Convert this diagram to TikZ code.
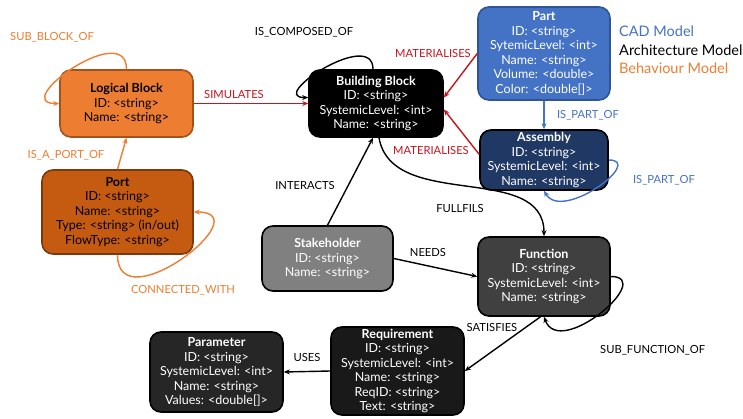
\documentclass[tikz,border=0pt]{standalone}
\usepackage{fontspec}
\setmainfont{Lato}
\usetikzlibrary{arrows.meta}

% model colours
\definecolor{behav}{HTML}{ED7D31}
\definecolor{behavdark}{HTML}{A4521B}
\definecolor{portfill}{HTML}{C55A11}
\definecolor{portdark}{HTML}{7A3A0E}
\definecolor{cad}{HTML}{4472C4}
\definecolor{caddark}{HTML}{2F5597}
\definecolor{asmfill}{HTML}{203864}
\definecolor{relred}{HTML}{C8141E}

\tikzset{
  entity/.style={draw=black, line width=1.6pt, rounded corners=11pt, align=center,
    text=white, inner sep=1pt, font=\fontsize{12.5}{14.5}\selectfont},
  rel/.style={line width=1.4pt, -{Stealth[length=6pt,width=5pt]}},
  lbl/.style={inner sep=0pt, font=\fontsize{11.2}{12}\selectfont},
  legend/.style={inner sep=0pt, anchor=west, font=\fontsize{14.5}{16}\selectfont},
}

\begin{document}
\begin{tikzpicture}[x=1pt,y=1pt]
  \useasboundingbox (0,0) rectangle (743,-419);

  % behaviour model
  \node[entity, fill=behav, draw=behavdark, text=black, minimum width=133pt, minimum height=67pt]
    (lb) at (126.5,-103.5) {\textbf{Logical Block}\\ID: <string>\\Name: <string>};
  \node[entity, fill=portfill, draw=portdark, text=black, minimum width=151pt, minimum height=84pt]
    (port) at (117.5,-212) {\textbf{Port}\\ID: <string>\\Name: <string>\\Type: <string> (in/out)\\FlowType: <string>};

  % architecture model
  \node[entity, fill=black, minimum width=134pt, minimum height=67pt]
    (bb) at (376,-103.5) {\textbf{Building Block}\\ID: <string>\\SystemicLevel: <int>\\Name: <string>};
  \node[entity, fill=black!50, minimum width=131pt, minimum height=65pt]
    (stake) at (327.5,-258.5) {\textbf{Stakeholder}\\ID: <string>\\Name: <string>};
  \node[entity, fill=black!75, minimum width=132pt, minimum height=79pt]
    (func) at (544,-276.5) {\textbf{Function}\\ID: <string>\\SystemicLevel: <int>\\Name: <string>};
  \node[entity, fill=black!90, minimum width=133pt, minimum height=88pt]
    (req) at (397.5,-371) {\textbf{Requirement}\\ID: <string>\\SystemicLevel: <int>\\Name: <string>\\ReqID: <string>\\Text: <string>};
  \node[entity, fill=black!85, minimum width=133pt, minimum height=80pt]
    (param) at (216.5,-372) {\textbf{Parameter}\\ID: <string>\\SystemicLevel: <int>\\Name: <string>\\Values: <double[]>};

  % CAD model
  \node[entity, fill=cad, draw=caddark, minimum width=132pt, minimum height=93pt]
    (part) at (544,-53.5) {\textbf{Part}\\ID: <string>\\SytemicLevel: <int>\\Name: <string>\\Volume: <double>\\Color: <double[]>};
  \node[entity, fill=asmfill, minimum width=128pt, minimum height=60pt]
    (asm) at (544,-160) {\textbf{Assembly}\\ID: <string>\\SystemicLevel: <int>\\Name: <string>};

  % legend
  \node[legend, text=cad] (legcad) at (619,-31) {CAD Model};
  \node[legend] (legarch) at (619,-50) {Architecture Model};
  \node[legend, text=behav] (legbeh) at (619,-68) {Behaviour Model};

  % behaviour relations
  \draw[rel, behav] (lb.north) to[out=90, in=180, looseness=1.7] (lb.west);
  \draw[rel, behav] (port.north) -- (lb.south);
  \draw[rel, behav] (port.south) to[out=-90, in=0, looseness=2] (port.east);
  \draw[rel, relred] (lb.east) -- (bb.west);
  \node[lbl, text=behav] (sublbl) at (52,-37) {SUB\_BLOCK\_OF};
  \node[lbl, text=behav] (portlbl) at (66,-155) {IS\_A\_PORT\_OF};
  \node[lbl, text=behav] (conlbl) at (183,-290) {CONNECTED\_WITH};
  \node[lbl, text=relred] (simlbl) at (234,-94) {SIMULATES};

  % architecture relations
  \draw[rel] (bb.95) to[out=90, in=180, looseness=1.5] (bb.175);
  \draw[rel] (stake.north) -- (bb.-95);
  \draw[rel] (bb.-85) to[out=-80, in=90] (func.north);
  \draw[rel] (stake.east) -- (func.west);
  \draw[rel] (func.-95) -- (req.east);
  \draw[rel] (func.east) to[out=0, in=-70, looseness=1.5] (func.south);
  \draw[rel] (req.west) -- (param.east);
  \node[lbl] (complbl) at (304,-32) {IS\_COMPOSED\_OF};
  \node[lbl] (intlbl) at (305,-185) {INTERACTS};
  \node[lbl] (fullbl) at (460,-208) {FULLFILS};
  \node[lbl] (needlbl) at (428,-252) {NEEDS};
  \node[lbl] (satlbl) at (492,-327) {SATISFIES};
  \node[lbl, anchor=west] (subflbl) at (600,-350) {SUB\_FUNCTION\_OF};
  \node[lbl] (useslbl) at (307,-357) {USES};

  % CAD relations
  \draw[rel, relred] (part.west) -- (bb.5);
  \draw[rel, relred] (asm.175) -- (bb.-5);
  \draw[rel, cad] (part.south) -- (asm.north);
  \draw[rel, cad] (asm.east) to[out=0, in=-60, looseness=1.3] (asm.south);
  \node[lbl, text=relred] (matlbl) at (433,-53) {MATERIALISES};
  \node[lbl, text=relred] (matlblb) at (431,-150) {MATERIALISES};
  \node[lbl, text=cad] (partlbl) at (588,-115) {IS\_PART\_OF};
  \node[lbl, text=cad] (partlblb) at (664,-180) {IS\_PART\_OF};
\end{tikzpicture}
\end{document}
